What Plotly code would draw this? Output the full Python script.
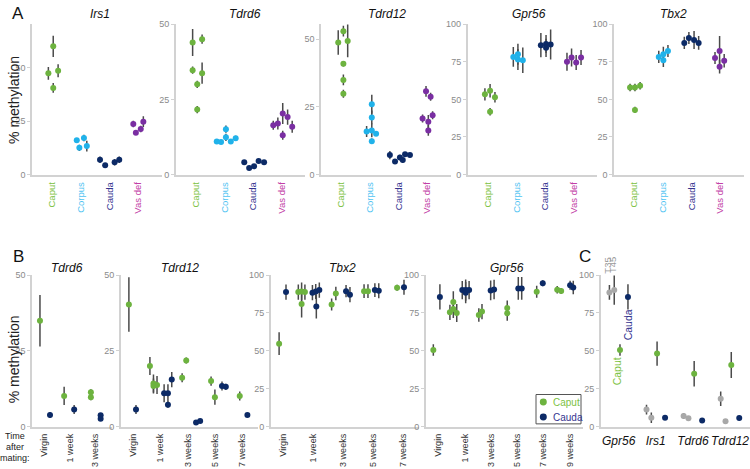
import plotly.graph_objects as go

W, H = 750, 469
FONT = "Liberation Sans, Arial, sans-serif"

# ---------------- data ----------------
TISSUES = ["Caput", "Corpus", "Cauda", "Vas def"]
TIME_LABELS = ["Virgin", "1 week", "3 weeks", "5 weeks", "7 weeks", "9 weeks"]
C_GENES = ["Gpr56", "Irs1", "Tdrd6", "Tdrd12"]
C_GROUPS = ["T35", "T45", "Caput", "Cauda"]

# Panel A (x = tissue index + jitter)
IRS1_X = [-0.13, 0.04, 0.04, 0.21, 0.86, 0.95, 1.11, 1.21, 1.67, 1.85, 2.18, 2.34, 2.83, 2.92, 3.09, 3.18]
IRS1_Y = [47.3, 59.9, 40.5, 48.5, 16.0, 12.5, 17.1, 13.3, 6.9, 4.4, 5.8, 6.9, 23.6, 19.5, 21.3, 24.7]
IRS1_E = [3, 5, 2.3, 3, 1, 1.5, 1.5, 2.5, 1.5, 1, 1.5, 1.5, 1.5, 1, 1.5, 2.5]
IRS1_T = [0, 0, 0, 0, 1, 1, 1, 1, 2, 2, 2, 2, 3, 3, 3, 3]

TDRD6_X = [-0.11, -0.11, 0.05, 0.05, 0.22, 0.22, 0.73, 0.88, 1.05, 1.05, 1.22, 1.39,
           1.69, 1.86, 2.03, 2.19, 2.38, 2.70, 2.86, 3.03, 3.03, 3.20, 3.36]
TDRD6_Y = [43.9, 34.7, 30.0, 21.6, 45.0, 33.7, 11.0, 10.8, 15.1, 12.4, 11.0, 12.1,
           4.1, 2.2, 2.8, 4.5, 4.1, 16.4, 17.0, 20.3, 13.1, 19.1, 15.9]
TDRD6_E = [4.5, 1.2, 1.2, 1.2, 1.5, 3.5, 0.8, 0.6, 1.2, 1.2, 0.7, 0.8,
           0.5, 0.4, 0.5, 0.5, 0.5, 1.5, 2, 3.5, 1.5, 2.5, 2]
TDRD6_T = [0] * 6 + [1] * 6 + [2] * 5 + [3] * 6

TDRD12_X = [-0.10, 0.08, 0.08, 0.08, 0.08, 0.23, 0.89, 1.07, 1.07, 1.07, 1.07, 1.22,
            1.70, 1.88, 2.05, 2.15, 2.23, 2.40, 2.84, 2.96, 3.04, 3.04, 3.12, 3.19]
TDRD12_Y = [48.7, 52.9, 40.9, 34.9, 29.8, 49.3, 15.9, 16.3, 21.1, 25.9, 12.3, 15.1,
            7.2, 4.8, 6.3, 5.4, 7.5, 7.2, 20.7, 30.7, 19.5, 16.3, 28.7, 21.9]
TDRD12_E = [4.5, 2, 1, 2, 1.5, 6, 2, 2.5, 2.5, 3.5, 1, 0.5,
            1.5, 0.5, 1, 1, 0.8, 0.8, 1.5, 2, 2.5, 2, 1.5, 1.5]
TDRD12_T = [0] * 6 + [1] * 6 + [2] * 6 + [3] * 6

GPR56_X = [-0.10, 0.08, 0.08, 0.25, 0.89, 1.05, 1.05, 1.22, 1.85, 2.03, 2.03, 2.19, 2.76, 2.92, 3.08, 3.25]
GPR56_Y = [53.3, 55.7, 41.7, 51.4, 78.2, 79.9, 76.5, 76.0, 86.0, 86.8, 84.2, 86.4, 75.0, 77.8, 74.5, 77.8]
GPR56_E = [4, 4.5, 2.5, 3.5, 6.5, 7, 7, 8.5, 8, 6, 6, 10, 6, 6, 5, 5]
GPR56_T = [0, 0, 0, 0, 1, 1, 1, 1, 2, 2, 2, 2, 3, 3, 3, 3]

TBX2_X = [-0.14, 0.03, 0.03, 0.21, 0.86, 1.02, 1.02, 1.18, 1.75, 1.91, 2.09, 2.25, 2.82, 2.98, 2.98, 3.14]
TBX2_Y = [57.9, 57.9, 43.0, 59.0, 78.2, 79.9, 76.0, 82.1, 87.5, 90.7, 89.4, 87.5, 77.5, 82.1, 71.7, 75.6]
TBX2_E = [2.5, 2.5, 2, 2.5, 4, 5, 4.5, 4, 4, 4, 6, 4.5, 4, 10, 4.5, 4.5]
TBX2_T = [0, 0, 0, 0, 1, 1, 1, 1, 2, 2, 2, 2, 3, 3, 3, 3]

# Panel B (x = time index + jitter)
B_TDRD6_CAPUT_X = [-0.16, 0.78, 1.82, 1.82]
B_TDRD6_CAPUT_Y = [34.9, 10.1, 11.3, 9.7]
B_TDRD6_CAPUT_E = [8.5, 3, 1, 1]
B_TDRD6_CAUDA_X = [0.23, 1.17, 2.2, 2.2]
B_TDRD6_CAUDA_Y = [3.8, 5.6, 3.7, 2.6]
B_TDRD6_CAUDA_E = [1, 1.5, 0.5, 0.5]

B_TDRD12_CAPUT_X = [-0.16, 0.61, 0.74, 0.74, 0.87, 1.79, 1.94, 2.85, 2.99, 3.90]
B_TDRD12_CAPUT_Y = [40.3, 20.0, 14.2, 13.4, 13.7, 16.1, 21.8, 15.0, 9.7, 10.1]
B_TDRD12_CAPUT_E = [9, 3, 3, 2.5, 3, 1.5, 1, 1.5, 2.5, 1.5]
B_TDRD12_CAUDA_X = [0.10, 1.13, 1.27, 1.27, 1.41, 2.30, 2.45, 3.25, 3.39, 4.18]
B_TDRD12_CAUDA_Y = [5.6, 11.0, 11.0, 7.2, 15.5, 1.3, 1.8, 13.4, 13.1, 3.8]
B_TDRD12_CAUDA_E = [1.5, 3, 3, 1, 2.5, 0.3, 0.3, 1.5, 1, 0.4]

B_TBX2_CAPUT_X = [-0.14, 0.50, 0.61, 0.61, 0.72, 1.61, 1.75, 2.69, 2.82, 3.79]
B_TBX2_CAPUT_Y = [54.7, 88.8, 89.2, 81.0, 88.8, 80.6, 87.9, 89.4, 89.4, 91.6]
B_TBX2_CAPUT_E = [7.5, 5, 6, 9, 5, 4, 4.5, 4.5, 4.5, 2]
B_TBX2_CAUDA_X = [0.09, 0.97, 1.08, 1.10, 1.20, 2.09, 2.22, 3.05, 3.18, 4.02]
B_TBX2_CAUDA_Y = [88.8, 88.4, 89.2, 79.3, 90.1, 89.4, 87.1, 90.1, 89.7, 92.0]
B_TBX2_CAUDA_E = [5, 5, 5, 8, 5, 4, 5, 4.5, 5, 5]

B_GPR56_CAPUT_X = [-0.19, 0.44, 0.57, 0.57, 0.70, 1.54, 1.66, 2.62, 2.62, 3.74, 4.52, 4.67]
B_GPR56_CAPUT_Y = [50.6, 75.4, 82.3, 77.6, 75.0, 73.7, 75.9, 78.3, 74.8, 89.0, 90.3, 89.5]
B_GPR56_CAPUT_E = [3.8, 5, 7, 6, 6, 4.5, 5, 5, 5, 4, 2.5, 2]
B_GPR56_CAUDA_X = [0.06, 0.91, 1.04, 1.04, 1.17, 1.99, 2.12, 3.04, 3.17, 3.97, 5.01, 5.13]
B_GPR56_CAUDA_Y = [85.6, 90.1, 90.1, 88.4, 90.1, 89.9, 90.5, 91.2, 91.2, 94.6, 93.3, 91.8]
B_GPR56_CAUDA_E = [8.3, 6, 7, 7, 6, 6.5, 6.5, 7.5, 7.5, 2, 3, 4.5]

# Panel C (per gene, one value per group)
C_OFFSETS = [-0.25, -0.12, 0.035, 0.25]
C_T35_Y = [88.6, 11.2, 6.9, 18.3]
C_T35_E = [4.8, 3.2, 2.0, 4.8]
C_T45_Y = [90.1, 5.8, 5.4, 3.4]
C_T45_E = [9.7, 3.5, 1.0, 1.5]
C_CAPUT_Y = [50.5, 48.2, 34.8, 40.6]
C_CAPUT_E = [3.8, 8.0, 8.4, 8.6]
C_CAUDA_Y = [85.6, 5.8, 3.9, 5.6]
C_CAUDA_E = [8.3, 1.5, 0.7, 1.5]

# ---------------- style ----------------
MARK = ["#6db33f", "#20b2ea", "#0c2a66", "#7a2ea2"]
LABEL_COL = ["#7cc242", "#4fc3f2", "#34348f", "#c23ea6"]
GRAY_MARK = "#a8a8a8"
ERR_COL = "#4a4a4a"
AXC = "#d2d2d2"
TICK_COL = "#8a8a8a"


def px(p):
    return p / W


def py(p):
    return 1 - p / H


fig = go.Figure()


def ax_names(n):
    return ("x" if n == 1 else f"x{n}", "y" if n == 1 else f"y{n}",
            "xaxis" if n == 1 else f"xaxis{n}", "yaxis" if n == 1 else f"yaxis{n}")


def add_pts(n, x, y, e, color, name=None):
    xa, ya, _, _ = ax_names(n)
    fig.add_trace(go.Scatter(
        x=x, y=y, mode="markers", xaxis=xa, yaxis=ya, showlegend=False, name=name,
        marker=dict(size=6, color=color, line=dict(width=0)),
        error_y=dict(type="data", array=e, color=ERR_COL, thickness=1.5, width=0),
        cliponaxis=False))


def set_axes(n, xdom, xrange, ydom, yrange, ytickvals, xtickvals, xticktext,
             xtickangle=-90, xfont=None):
    _, _, xk, yk = ax_names(n)
    xa, ya, _, _ = ax_names(n)
    fig.layout[xk] = dict(
        domain=[px(xdom[0]), px(xdom[1])], range=xrange, anchor=ya,
        showline=True, linecolor=AXC, linewidth=1.5, showgrid=False, zeroline=False,
        tickmode="array", tickvals=xtickvals, ticktext=xticktext, tickangle=xtickangle,
        ticks="", ticklabelstandoff=2,
        tickfont=xfont or dict(size=9, color="#333", family=FONT), fixedrange=True)
    fig.layout[yk] = dict(
        domain=[py(ydom[0]), py(ydom[1])], range=yrange, anchor=xa,
        showline=True, linecolor=AXC, linewidth=1.5, showgrid=False, zeroline=False,
        tickmode="array", tickvals=ytickvals, ticks="outside", ticklen=3, tickcolor=AXC,
        tickwidth=1, tickfont=dict(size=9, color=TICK_COL, family=FONT), fixedrange=True)


# ---------------- Panel A ----------------
A_TICKTEXT = [f'<span style="color:{c}">{t}</span>' for t, c in zip(TISSUES, LABEL_COL)]
A_DOMS = [(32, 161.7), (175.7, 305.4), (321, 450.7), (467.7, 597.4), (614, 743.7)]
A_YDOM = (173.3, 19.5)
A_SETS = [
    (IRS1_X, IRS1_Y, IRS1_E, IRS1_T, [0, 70.3], [0, 25, 50]),
    (TDRD6_X, TDRD6_Y, TDRD6_E, TDRD6_T, [0, 50], [0, 25, 50]),
    (TDRD12_X, TDRD12_Y, TDRD12_E, TDRD12_T, [0, 55.5], [0, 25, 50]),
    (GPR56_X, GPR56_Y, GPR56_E, GPR56_T, [0, 100], [0, 25, 50, 75, 100]),
    (TBX2_X, TBX2_Y, TBX2_E, TBX2_T, [0, 100], [0, 25, 50, 75, 100]),
]
for i, (xs, ys, es, ts, yr, yt) in enumerate(A_SETS):
    n = i + 1
    add_pts(n, xs, ys, es, [MARK[t] for t in ts])
    set_axes(n, A_DOMS[i], [-0.7, 3.82], A_YDOM, yr, yt, [0, 1, 2, 3], A_TICKTEXT,
             xfont=dict(size=9.5, family=FONT))

# ---------------- Panel B ----------------
B_SETS = [
    (B_TDRD6_CAPUT_X, B_TDRD6_CAPUT_Y, B_TDRD6_CAPUT_E, B_TDRD6_CAUDA_X, B_TDRD6_CAUDA_Y, B_TDRD6_CAUDA_E,
     (32, 111.7), [-0.47, 2.63], [0, 50], [0, 25, 50], 3),
    (B_TDRD12_CAPUT_X, B_TDRD12_CAPUT_Y, B_TDRD12_CAPUT_E, B_TDRD12_CAUDA_X, B_TDRD12_CAUDA_Y, B_TDRD12_CAUDA_E,
     (120.7, 257.5), [-0.46, 4.55], [0, 50], [0, 25, 50], 5),
    (B_TBX2_CAPUT_X, B_TBX2_CAPUT_Y, B_TBX2_CAPUT_E, B_TBX2_CAUDA_X, B_TBX2_CAUDA_Y, B_TBX2_CAUDA_E,
     (270.7, 419.3), [-0.42, 4.53], [0, 100], [0, 25, 50, 75, 100], 5),
    (B_GPR56_CAPUT_X, B_GPR56_CAPUT_Y, B_GPR56_CAPUT_E, B_GPR56_CAUDA_X, B_GPR56_CAUDA_Y, B_GPR56_CAUDA_E,
     (425.7, 583), [-0.48, 5.5], [0, 100], [0, 25, 50, 75, 100], 6),
]
B_YDOM = (430.7, 276)
for i, (cx, cy, ce, dx, dy, de, xd, xr, yr, yt, nt) in enumerate(B_SETS):
    n = 6 + i
    add_pts(n, cx, cy, ce, MARK[0], "Caput")
    add_pts(n, dx, dy, de, MARK[2], "Cauda")
    set_axes(n, xd, xr, B_YDOM, yr, yt, list(range(nt)), TIME_LABELS[:nt])

# ---------------- Panel C ----------------
C_SERIES = [(C_T35_Y, C_T35_E, GRAY_MARK), (C_T45_Y, C_T45_E, GRAY_MARK),
            (C_CAPUT_Y, C_CAPUT_E, MARK[0]), (C_CAUDA_Y, C_CAUDA_E, MARK[2])]
for k, (ys, es, col) in enumerate(C_SERIES):
    xs = [g + C_OFFSETS[k] for g in range(len(C_GENES))]
    add_pts(10, xs, ys, es, col, C_GROUPS[k])
set_axes(10, (600.7, 750), [-0.485, 3.54], B_YDOM, [0, 100], [0, 25, 50, 75, 100],
         [0, 1, 2, 3], C_GENES, xtickangle=0,
         xfont=dict(size=12, color="#111", family=FONT, style="italic"))

# ---------------- annotations ----------------
ann = []


def text(x, y, s, size=12, color="#111", angle=0, xanchor="center", italic=False):
    ann.append(dict(x=px(x), y=py(y), xref="paper", yref="paper", text=s, showarrow=False,
                    xanchor=xanchor, yanchor="middle", textangle=angle,
                    font=dict(size=size, color=color, family=FONT,
                              style="italic" if italic else "normal")))


# panel letters
text(18, 9, "A", size=17)
text(18.3, 257, "B", size=17)
text(585, 257, "C", size=17)

# titles
for t, x in zip(["Irs1", "Tdrd6", "Tdrd12", "Gpr56", "Tbx2"], [100, 245, 386.7, 529.3, 673.3]):
    text(x, 9, t, size=12, italic=True)
for t, x in zip(["Tdrd6", "Tdrd12", "Tbx2", "Gpr56"], [67, 180, 342, 507]):
    text(x, 268.5, t, size=12, italic=True)

# y titles
text(14, 97, "% methylation", size=14, color="#222", angle=-90)
text(14, 362, "% methylation", size=14, color="#222", angle=-90)

# time after mating
for s, y in zip(["Time", "after", "mating:"], [440.5, 451.5, 462.5]):
    text(15, y, s, size=9, color="#222")

# panel C labels
text(607.3, 266, "T35", size=9.5, color="#9a9a9a", angle=-90)
text(612.7, 266, "T45", size=9.5, color="#9a9a9a", angle=-90)
text(628.3, 327, "Cauda", size=10.5, color=LABEL_COL[2], angle=-90)
text(617.3, 374, "Caput", size=10.5, color=LABEL_COL[0], angle=-90)

# legend (manual)
text(551, 405.7, "Caput", size=10, color=LABEL_COL[0], xanchor="left")
text(551, 421, "Cauda", size=10, color=LABEL_COL[2], xanchor="left")
shapes = [
    dict(type="rect", xref="paper", yref="paper", x0=px(536), x1=px(581), y0=py(428), y1=py(398),
         line=dict(color="#555", width=1), fillcolor="white", layer="below"),
    dict(type="circle", xref="paper", yref="paper", x0=px(539.8), x1=px(546.8), y0=py(409.2), y1=py(402.2),
         line=dict(width=0), fillcolor=MARK[0]),
    dict(type="circle", xref="paper", yref="paper", x0=px(539.8), x1=px(546.8), y0=py(424.5), y1=py(417.5),
         line=dict(width=0), fillcolor=MARK[2]),
]

fig.update_layout(
    width=W, height=H, margin=dict(l=0, r=0, t=0, b=0),
    paper_bgcolor="white", plot_bgcolor="white", showlegend=False,
    font=dict(family=FONT), annotations=ann, shapes=shapes)

fig.write_html(
    "out.html",
    config={"displayModeBar": False},
    post_script="document.body.style.margin='0px';document.body.style.padding='0px';"
                "document.body.style.overflow='hidden';")
